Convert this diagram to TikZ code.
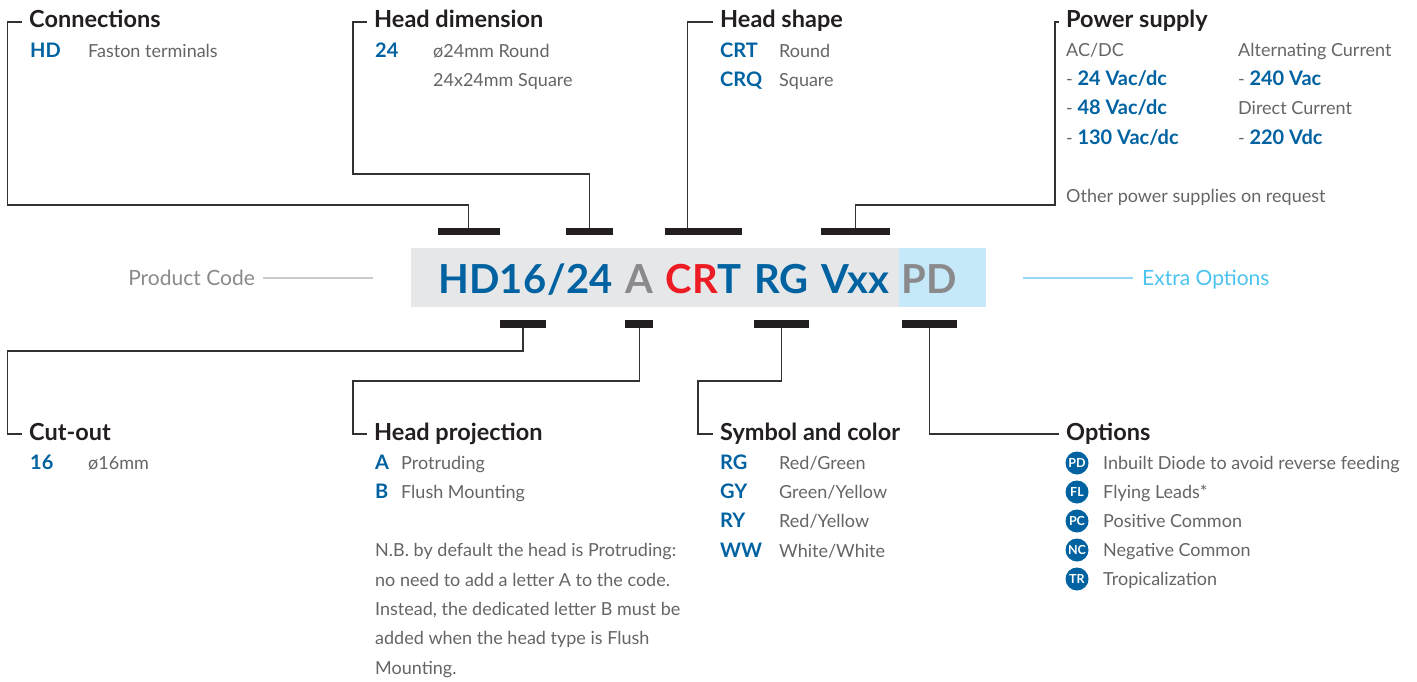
\documentclass[tikz,border=0pt]{standalone}
\usepackage{fontspec}
\setmainfont{Lato}
\usetikzlibrary{positioning}

\definecolor{codeblue}{RGB}{0,98,160}
\definecolor{codered}{RGB}{237,28,36}
\definecolor{codegray}{RGB}{138,138,141}
\definecolor{boxgray}{RGB}{230,231,232}
\definecolor{boxblue}{RGB}{198,233,249}
\definecolor{headtext}{RGB}{35,31,32}
\definecolor{desctext}{RGB}{100,101,103}
\definecolor{skyblue}{RGB}{76,195,239}
\definecolor{skyline}{RGB}{150,215,245}
\definecolor{pcgray}{RGB}{200,202,204}
\definecolor{linegray}{RGB}{50,50,50}

\tikzset{
    heading/.style={font=\fontsize{23.5}{27}\selectfont\bfseries, text=headtext,
        text height=12pt, text depth=0pt, inner xsep=7pt, inner ysep=0pt, anchor=west},
    code/.style={font=\fontsize{20}{23}\selectfont\bfseries, text=codeblue,
        inner sep=0pt, anchor=base west},
    desc/.style={font=\fontsize{18}{21}\selectfont, text=desctext,
        inner sep=0pt, anchor=base west},
    bigcode/.style={font=\fontsize{40}{44}\selectfont\bfseries, text=codeblue,
        inner sep=0pt, text height=29pt, text depth=0pt},
    codebar/.style={fill=headtext},
    leader/.style={draw=linegray, line width=1.2pt},
    optdot/.style={circle, fill=codeblue, text=white, minimum size=23pt,
        inner sep=0pt, font=\fontsize{12.5}{12.5}\selectfont\bfseries},
    sidelabel/.style={font=\fontsize{21}{24}\selectfont, inner ysep=0pt,
        text height=14pt, text depth=0pt}
}

\begin{document}
\begin{tikzpicture}[x=1pt, y=-1pt]
    \useasboundingbox (0,0) rectangle (1417,682);

    % product code box
    \fill[boxgray] (411,248) rectangle (899,307);
    \fill[boxblue] (899,248) rectangle (986,307);

    \node[bigcode, anchor=base west] (hd) at (438,293) {HD};
    \node[bigcode, right=0pt of hd] (cut) {16};
    \node[bigcode, right=0.5pt of cut] (slash) {/};
    \node[bigcode, right=0.5pt of slash] (dim) {24};
    \node[bigcode, right=12pt of dim, text=codegray] (proj) {A};
    \node[bigcode, right=12pt of proj] (shp) {\textcolor{codered}{CR}T};
    \node[bigcode, right=12pt of shp] (sym) {RG};
    \node[bigcode, right=12pt of sym] (volt) {Vxx};
    \node[bigcode, right=12pt of volt, text=codegray] (opt) {PD};

    % bars
    \fill[codebar] ([yshift=29pt]hd.north west) rectangle ([yshift=36pt]hd.north east);
    \fill[codebar] ([yshift=29pt]dim.north west) rectangle ([yshift=36pt]dim.north east);
    \fill[codebar] ([yshift=29pt]shp.north west) rectangle ([yshift=36pt]shp.north east);
    \fill[codebar] ([yshift=29pt]volt.north west) rectangle ([yshift=36pt]volt.north east);
    \fill[codebar] ([yshift=-27pt]cut.south west) rectangle ([yshift=-35pt]cut.south east);
    \fill[codebar] ([yshift=-27pt]proj.south west) rectangle ([yshift=-35pt]proj.south east);
    \fill[codebar] ([yshift=-27pt]sym.south west) rectangle ([yshift=-35pt]sym.south east);
    \fill[codebar] ([yshift=-27pt]opt.south west) rectangle ([yshift=-35pt]opt.south east);

    % side labels
    \node[sidelabel, text=codegray, anchor=east, inner xsep=8pt] (pcode) at (263,278) {Product Code};
    \coordinate (pcend) at (373,278);
    \draw[pcgray, line width=2pt] (pcode.east) -- (pcend);
    \node[sidelabel, text=skyblue, anchor=west, inner xsep=9pt] (xopt) at (1133,278) {Extra Options};
    \coordinate (xostart) at (1023,278);
    \draw[skyline, line width=2pt] (xostart) -- (xopt.west);

    % headings
    \node[heading] (conn) at (22,22) {Connections};
    \node[heading] (hdim) at (367,22) {Head dimension};
    \node[heading] (hshape) at (713,22) {Head shape};
    \node[heading] (power) at (1059,22) {Power supply};
    \node[heading] (cutout) at (22,434) {Cut-out};
    \node[heading] (hproj) at (367,434) {Head projection};
    \node[heading] (symcol) at (713,434) {Symbol and color};
    \node[heading] (options) at (1059,434) {Options};

    % leaders
    \draw[leader] ([yshift=36pt]hd.north) |- (7.5,205) |- (conn.west);
    \draw[leader] ([yshift=36pt]dim.north) |- (353,174) |- (hdim.west);
    \draw[leader] ([xshift=22pt,yshift=36pt]shp.north west) |- (hshape.west);
    \draw[leader] ([yshift=36pt]volt.north) |- (1055,205) |- (power.west);
    \draw[leader] ([yshift=-35pt]cut.south) |- (7.5,351) |- (cutout.west);
    \draw[leader] ([yshift=-35pt]proj.south) |- (353,381) |- (hproj.west);
    \draw[leader] ([yshift=-35pt]sym.south) |- (698,381) |- (symcol.west);
    \draw[leader] ([yshift=-35pt]opt.south) |- (options.west);

    % connections
    \node[code] (hdcode) at (30,57.5) {HD};
    \node[desc] (hddesc) at (88,57.5) {Faston terminals};

    % head dimension
    \node[code] (dimcode) at (375,57.5) {24};
    \node[desc] (dimround) at (433,57.5) {ø24mm Round};
    \node[desc] (dimsquare) at (433,87) {24x24mm Square};

    % head shape
    \node[code] (crtcode) at (720,57.5) {CRT};
    \node[desc] (crtdesc) at (779,57.5) {Round};
    \node[code] (crqcode) at (720,87) {CRQ};
    \node[desc] (crqdesc) at (779,87) {Square};

    % power supply
    \node[desc] (acdc) at (1066,57) {AC/DC};
    \node[desc] (v24) at (1066,86) {- \textcolor{codeblue}{\fontsize{20}{23}\selectfont\bfseries 24 Vac/dc}};
    \node[desc] (v48) at (1066,115) {- \textcolor{codeblue}{\fontsize{20}{23}\selectfont\bfseries 48 Vac/dc}};
    \node[desc] (v130) at (1066,145) {- \textcolor{codeblue}{\fontsize{20}{23}\selectfont\bfseries 130 Vac/dc}};
    \node[desc] (altcur) at (1238,57) {Alternating Current};
    \node[desc] (v240) at (1238,86) {- \textcolor{codeblue}{\fontsize{20}{23}\selectfont\bfseries 240 Vac}};
    \node[desc] (dircur) at (1238,115) {Direct Current};
    \node[desc] (v220) at (1238,145) {- \textcolor{codeblue}{\fontsize{20}{23}\selectfont\bfseries 220 Vdc}};
    \node[desc] (other) at (1066,203) {Other power supplies on request};

    % cut-out
    \node[code] (cutcode) at (30,469) {16};
    \node[desc] (cutdesc) at (88,469) {ø16mm};

    % head projection
    \node[code] (acode) at (375,469) {A};
    \node[desc] (adesc) at (401,469) {Protruding};
    \node[code] (bcode) at (375,498) {B};
    \node[desc] (bdesc) at (401,498) {Flush Mounting};
    \node[desc, align=left, font=\fontsize{18}{29.3}\selectfont] (note) at (375,674)
        {N.B. by default the head is Protruding:\\
         no need to add a letter A to the code.\\
         Instead, the dedicated letter B must be\\
         added when the head type is Flush\\
         Mounting.};

    % symbol and color
    \node[code] (rgcode) at (720,469) {RG};
    \node[desc] (rgdesc) at (779,469) {Red/Green};
    \node[code] (gycode) at (720,498) {GY};
    \node[desc] (gydesc) at (779,498) {Green/Yellow};
    \node[code] (rycode) at (720,527) {RY};
    \node[desc] (rydesc) at (779,527) {Red/Yellow};
    \node[code] (wwcode) at (720,557) {WW};
    \node[desc] (wwdesc) at (779,557) {White/White};

    % options
    \node[optdot] (pd) at (1077,463) {PD};
    \node[desc] (pddesc) at (1103,469) {Inbuilt Diode to avoid reverse feeding};
    \node[optdot] (fl) at (1077,492) {FL};
    \node[desc] (fldesc) at (1103,498) {Flying Leads*};
    \node[optdot] (pc) at (1077,521) {PC};
    \node[desc] (pcdesc) at (1103,527) {Positive Common};
    \node[optdot] (nc) at (1077,550) {NC};
    \node[desc] (ncdesc) at (1103,556) {Negative Common};
    \node[optdot] (tr) at (1077,579) {TR};
    \node[desc] (trdesc) at (1103,585) {Tropicalization};

\end{tikzpicture}
\end{document}
